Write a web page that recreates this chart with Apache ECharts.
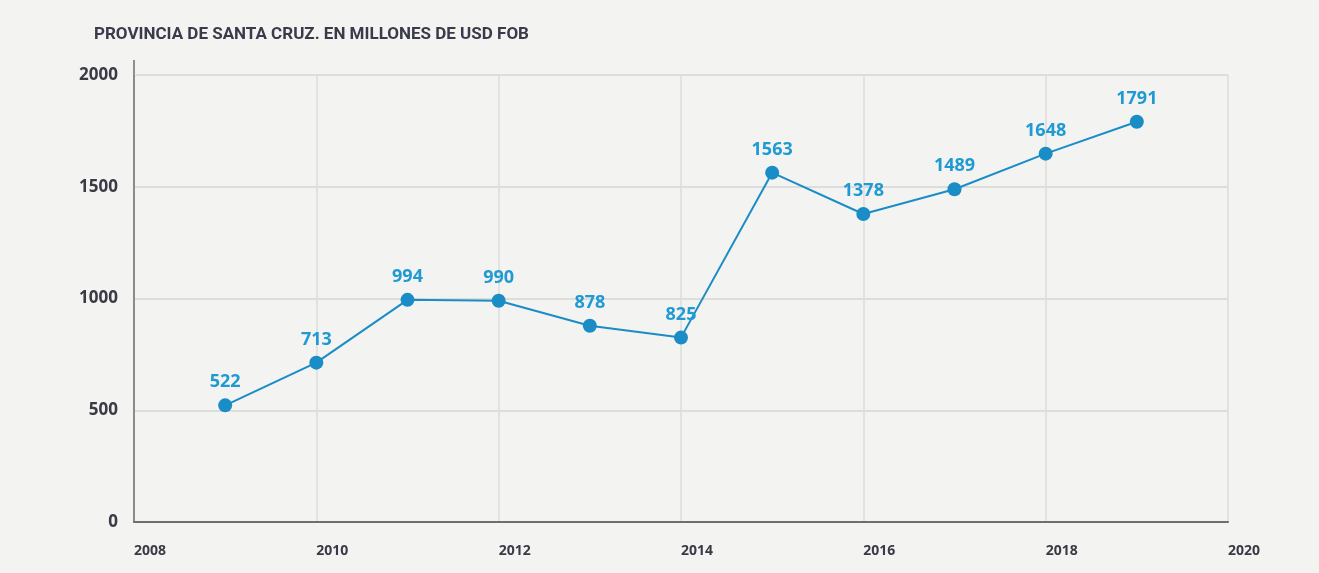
<!DOCTYPE html>
<html>
<head>
<meta charset="utf-8">
<script src="https://cdn.jsdelivr.net/npm/echarts@6/dist/echarts.min.js"></script>
<style>
html,body{margin:0;padding:0;background:#f3f3f2;}
#c{width:1319px;height:573px;}
</style>
</head>
<body>
<div id="c"></div>
<script>
const titleText = 'PROVINCIA DE SANTA CRUZ. EN MILLONES DE USD FOB';
const years = [2009, 2010, 2011, 2012, 2013, 2014, 2015, 2016, 2017, 2018, 2019];
const values = [522, 713, 994, 990, 878, 825, 1563, 1378, 1489, 1648, 1791];

const chart = echarts.init(document.getElementById('c'));
const lineColor = '#1a8cc6';
const labelColor = '#1f9ad3';
const axisText = '#3a3a44';

chart.setOption({
  backgroundColor: '#f3f3f2',
  animation: false,
  title: {
    text: titleText,
    left: 89, top: 21,
    textStyle: {fontFamily: 'Roboto', fontWeight: 'bold', fontSize: 17, color: '#3a3b4a'}
  },
  grid: {left: 134, right: 91, top: 75, bottom: 51, show: false},
  xAxis: {
    type: 'value', min: 2008, max: 2020, interval: 2,
    axisLine: {show: true, lineStyle: {color: '#6e6e72', width: 2}},
    axisTick: {show: false},
    splitLine: {show: true, lineStyle: {color: '#dddddb', width: 1.5}},
    axisLabel: {
      align: 'left', margin: 22,
      fontFamily: 'Open Sans', fontWeight: 'bold', fontSize: 14, color: axisText,
      formatter: v => String(v)
    }
  },
  yAxis: {
    type: 'value', min: 0, max: 2000, interval: 500,
    axisLine: {show: true, lineStyle: {color: '#6e6e72', width: 1.5}},
    axisTick: {show: false},
    splitLine: {show: true, lineStyle: {color: '#dddddb', width: 2}},
    axisLabel: {
      margin: 16,
      fontFamily: 'Open Sans', fontWeight: 'bold', fontSize: 17, color: axisText,
      formatter: v => String(v)
    }
  },
  graphic: [{
    type: 'line', shape: {x1: 134, y1: 60, x2: 134, y2: 76},
    style: {stroke: '#6e6e72', lineWidth: 1.5}
  }],
  series: [{
    type: 'line',
    data: years.map((y, i) => [y, values[i]]),
    symbol: 'circle', symbolSize: 14,
    itemStyle: {color: lineColor},
    lineStyle: {color: lineColor, width: 2},
    label: {
      show: true, position: 'top', distance: 7,
      fontFamily: 'Open Sans', fontWeight: 'bold', fontSize: 18, color: labelColor,
      formatter: p => String(p.value[1])
    }
  }]
});
</script>
</body>
</html>
